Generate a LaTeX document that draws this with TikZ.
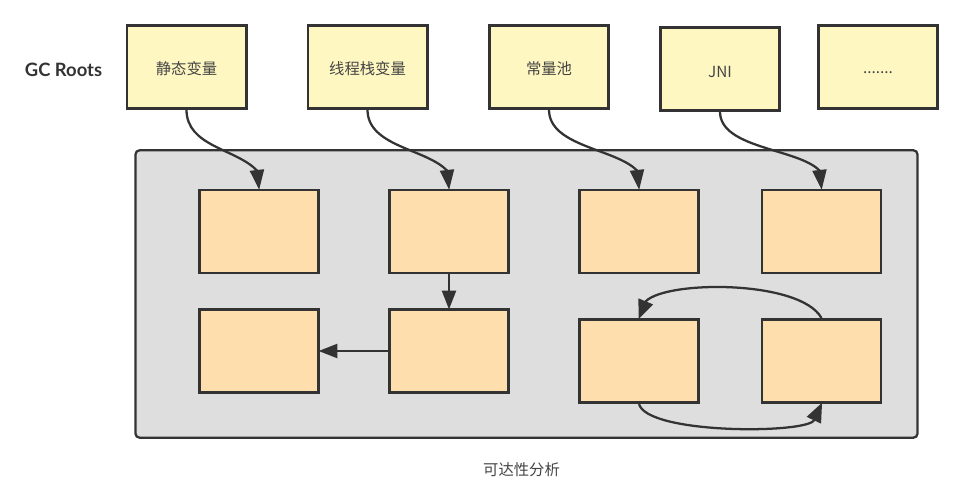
\documentclass[tikz,border=0pt]{standalone}
\usepackage{fontspec}
\setmainfont{Open Sans}
\newfontfamily\cjkf{Noto Sans CJK SC}
\newfontfamily\boldf{Lato}
\usetikzlibrary{arrows.meta}
\definecolor{lineC}{HTML}{333333}
\definecolor{yellowC}{HTML}{FFF7C2}
\definecolor{orangeC}{HTML}{FFDEAD}
\definecolor{groupC}{HTML}{DEDEDE}
\definecolor{labelC}{HTML}{444444}
\newcommand{\lowered}[2][-5.9pt]{\raisebox{#1}[0pt][0pt]{#2}}
\tikzset{
  rootbox/.style={draw=lineC,line width=2pt,fill=yellowC,rectangle,minimum width=89.5pt,minimum height=62pt,inner sep=0pt,text=labelC,font=\cjkf\fontsize{11.5}{13}\selectfont},
  itembox/.style={draw=lineC,line width=1.9pt,fill=orangeC,rectangle,minimum width=89.5pt,minimum height=62.5pt,inner sep=0pt},
  groupbox/.style={draw=lineC,line width=1.7pt,fill=groupC,rectangle,rounded corners=3pt,minimum width=586.5pt,minimum height=215.5pt,inner sep=0pt},
  link/.style={draw=lineC,line width=1.7pt,shorten >=-1pt,-{Triangle[length=15pt,width=10.5pt,fill=lineC]}},
  looplink/.style={draw=lineC,line width=1.7pt,shorten >=-1pt,-{Triangle[length=14.5pt,width=11.5pt,fill=lineC]}},
  straight/.style={draw=lineC,line width=1.5pt,shorten >=-1pt,-{Triangle[length=14pt,width=10.5pt,fill=lineC]}},
  caption/.style={inner sep=0pt,text=labelC,font=\cjkf\fontsize{11.5}{13}\selectfont},
  rootlabel/.style={inner sep=0pt,text=lineC,font=\boldf\bfseries\fontsize{13.8}{15}\selectfont}
}
\begin{document}
\begin{tikzpicture}[x=0.75pt,y=-0.75pt]
\useasboundingbox (0,0) rectangle (968,490);
\fill[white] (0,0) rectangle (968,490);
\node[groupbox] (grp) at (526.5,294) {};
\node[rootlabel] (gc) at (63.5,69.5) {GC Roots};
\node[rootbox] (r1) at (186.5,67) {\lowered{静态变量}};
\node[rootbox] (r2) at (367.5,67) {\lowered{线程栈变量}};
\node[rootbox] (r3) at (549,67) {\lowered{常量池}};
\node[rootbox] (r4) at (720,69) {\lowered[-6.4pt]{JNI}};
\node[rootbox] (r5) at (878,67) {\lowered[-4.5pt]{.......}};
\node[itembox] (a1) at (259,231.5) {};
\node[itembox] (a2) at (449,231.5) {};
\node[itembox] (a3) at (639,231.5) {};
\node[itembox] (a4) at (821.5,231.5) {};
\node[itembox] (b1) at (259,351) {};
\node[itembox] (b2) at (449,351) {};
\node[itembox] (b3) at (639,361) {};
\node[itembox] (b4) at (821.5,361) {};
\node[caption] (cap) at (521.5,470) {可达性分析};
\draw[link] (r1.south) .. controls +(0,37) and +(-21,-22) .. ([shift={(-2,-18)}]a1.north) -- (a1.north);
\draw[link] (r2.south) .. controls +(0,37) and +(-21,-22) .. ([shift={(-2,-18)}]a2.north) -- (a2.north);
\draw[link] (r3.south) .. controls +(0,37) and +(-21,-22) .. ([shift={(-2,-18)}]a3.north) -- (a3.north);
\draw[link] (r4.south) .. controls +(0,37) and +(-21,-22) .. ([shift={(-2,-18)}]a4.north) -- (a4.north);
\draw[straight] (a2.south) -- (b2.north);
\draw[straight] (b2.west) -- (b1.east);
\draw[looplink] (b4.north) .. controls +(-21,-38) and +(22,-21) .. ([shift={(7,-17)}]b3.north) -- (b3.north);
\draw[looplink] (b3.south) .. controls +(8,30) and +(-13,13) .. ([shift={(-8,17)}]b4.south) -- (b4.south);
\end{tikzpicture}
\end{document}
